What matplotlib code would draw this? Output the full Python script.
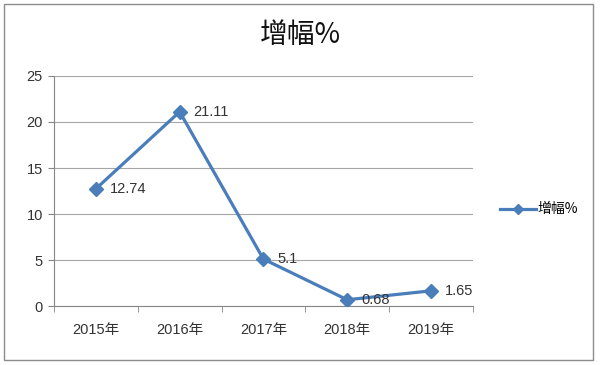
import matplotlib
matplotlib.use("Agg")
import matplotlib.pyplot as plt
from matplotlib.patches import Rectangle

plt.rcParams['font.family'] = ['Liberation Sans', 'Noto Sans CJK SC', 'DejaVu Sans']

years = ["2015年", "2016年", "2017年", "2018年", "2019年"]
growth = [12.74, 21.11, 5.1, 0.68, 1.65]
labels = ["12.74", "21.11", "5.1", "0.68", "1.65"]
series_name = "增幅%"

color = "#4A7EBB"
text_color = "#333333"

fig = plt.figure(figsize=(6.0, 3.65), dpi=100)
fig.patches.append(Rectangle((0.006, 0.014), 0.982, 0.975, transform=fig.transFigure,
                             fill=False, edgecolor="#8c8c8c", linewidth=1.0))

ax = fig.add_axes([0.09, 0.1616, 0.698, 0.6302])
x = list(range(len(years)))
ax.plot(x, growth, color=color, linewidth=2.3, marker="D", markersize=7,
        label=series_name, zorder=3)
for xi, yi, lab in zip(x, growth, labels):
    ax.annotate(lab, (xi, yi), xytext=(10, 0), textcoords="offset points",
                ha="left", va="center", fontsize=10.5, color=text_color)

ax.set_xlim(-0.5, len(years) - 0.5)
ax.set_ylim(0, 25)
ax.set_yticks([0, 5, 10, 15, 20, 25])
ax.set_xticks(x)
ax.set_xticklabels(years)
ax.set_xticks([i - 0.5 for i in range(len(years) + 1)], minor=True)
ax.tick_params(axis="x", which="major", length=0, pad=12, labelsize=10.5, colors=text_color)
ax.tick_params(axis="x", which="minor", length=4, color="#868686")
ax.tick_params(axis="y", length=4, color="#868686", labelsize=10.5, colors=text_color, pad=4)
ax.grid(axis="y", color="#a6a6a6", linewidth=0.8)
ax.set_axisbelow(True)
for side in ["top", "right"]:
    ax.spines[side].set_visible(False)
ax.spines["left"].set_color("#868686")
ax.spines["bottom"].set_color("#868686")

fig.text(0.5, 0.904, series_name, ha="center", va="center", fontsize=20,
         fontweight="medium", color="#111111",
         family=['Noto Sans CJK SC', 'DejaVu Sans'])

ax.legend(loc="center left", bbox_to_anchor=(1.035, 0.42), frameon=False,
          handlelength=2.6, handletextpad=0.1, markerscale=0.8,
          prop={'family': ['Noto Sans CJK SC', 'DejaVu Sans'], 'size': 10})

fig.savefig("out.png", dpi=100)
